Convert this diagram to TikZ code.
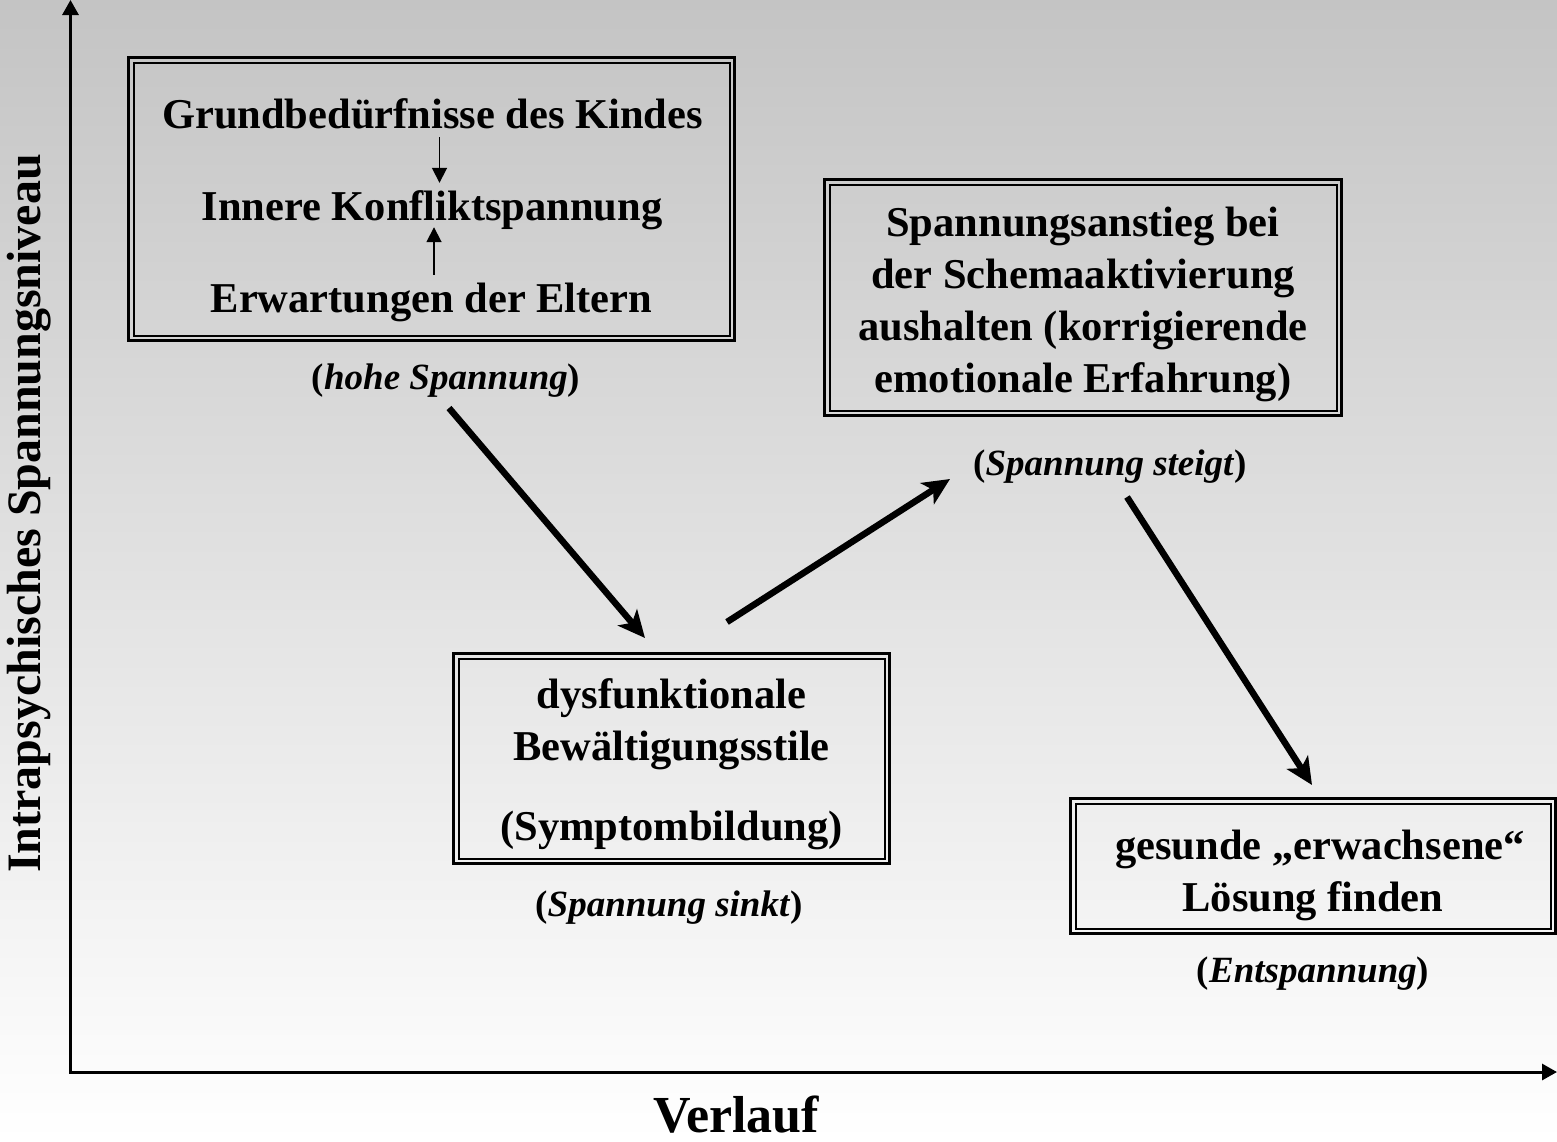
\documentclass[tikz,border=0pt]{standalone}
\usepackage{fontspec}
\setmainfont{Liberation Serif}
\usetikzlibrary{arrows.meta}
\definecolor{bgtop}{RGB}{196,196,196}
\begin{document}
\begin{tikzpicture}[x=1pt,y=-1pt,
  frame/.style={draw, line width=3pt, inner sep=0pt, outer sep=0pt,
    path picture={\draw[line width=2pt]
      ([shift={(5pt,-5pt)}]path picture bounding box.north west) rectangle
      ([shift={(-5pt,5pt)}]path picture bounding box.south east);}},
  boxtext/.style={font=\fontsize{42.5}{52}\selectfont\bfseries, align=center, inner sep=0pt},
  linetext/.style={font=\fontsize{42.5}{52}\selectfont\bfseries, inner sep=0pt,
    text height=30pt, text depth=9pt, anchor=base},
  note/.style={font=\fontsize{37}{44}\selectfont\bfseries, inner sep=0pt},
  bigarrow/.style={line width=6.5pt, -{Stealth[length=27pt,width=25pt,inset=7pt]}},
  smallarrow/.style={line width=1.8pt, -{Triangle[length=15pt,width=15pt]}}
]
\useasboundingbox (0,0) rectangle (1557,1141);
% soft vertical background gradient
\shade[top color=bgtop, bottom color=white] (0,0) rectangle (1557,1141);

% axes
\coordinate (ytip) at (70.5,0);
\coordinate (O) at (70.5,1072);
\coordinate (xtip) at (1557,1072);
\draw[line width=3pt, {Triangle[length=15pt,width=16pt]}-{Triangle[length=15pt,width=16pt]}]
  (ytip) -- (O) -- (xtip);
\node[font=\fontsize{48}{56}\selectfont\bfseries, rotate=90, inner sep=0pt] (ylab)
  at (28.8,513.5) {Intrapsychisches Spannungsniveau};
\node[font=\fontsize{52}{60}\selectfont\bfseries, anchor=base, inner sep=0pt] (xlab)
  at (736,1132) {Verlauf};

% box 1: needs and expectations
\node[frame, minimum width=606pt, minimum height=283pt] (b1) at (431.6,199) {};
\node[linetext] (g1) at (432.5,128) {Grundbedürfnisse des Kindes};
\node[linetext] (k1) at (432,220) {Innere Konfliktspannung};
\node[linetext] (e1) at (431.5,312) {Erwartungen der Eltern};
\draw[smallarrow, shorten >=7pt] ([xshift=7pt]g1.south) -- ([xshift=7pt]g1.south |- k1.north);
\draw[smallarrow, shorten <=7pt, shorten >=-2pt] ([xshift=2.5pt]e1.north) -- ([xshift=2.5pt]e1.north |- k1.south);
\node[note] (l1) at (446,381) {(\textit{hohe Spannung})};

% box 2: schema activation
\node[frame, minimum width=517pt, minimum height=236pt] (b2) at (1083,297.5) {};
\node[boxtext] (t2) at (1083,304) {Spannungsanstieg bei\\der Schemaaktivierung\\aushalten (korrigierende\\emotionale Erfahrung)};
\node[note] (l2) at (1110,467) {(\textit{Spannung steigt})};

% box 3: coping styles
\node[frame, minimum width=436pt, minimum height=210pt] (b3) at (671.5,758.5) {};
\node[boxtext] (t3) at (671.5,764) {dysfunktionale\\Bewältigungsstile\\[28pt](Symptombildung)};
\node[note] (l3) at (669,908) {(\textit{Spannung sinkt})};

% box 4: healthy solution
\node[frame, minimum width=485pt, minimum height=135pt] (b4) at (1313,866) {};
\node[boxtext] (t4) at (1313,875) {\hspace*{14pt}gesunde „erwachsene“\\Lösung finden};
\node[note] (l4) at (1313,974) {(\textit{Entspannung})};

% course of tension
\coordinate (a1s) at (449,408);  \coordinate (a1e) at (645,638);
\coordinate (a2s) at (727,622);  \coordinate (a2e) at (950,479);
\coordinate (a3s) at (1127,497); \coordinate (a3e) at (1312,785);
\draw[bigarrow] (a1s) -- (a1e);
\draw[bigarrow] (a2s) -- (a2e);
\draw[bigarrow] (a3s) -- (a3e);
\end{tikzpicture}
\end{document}
